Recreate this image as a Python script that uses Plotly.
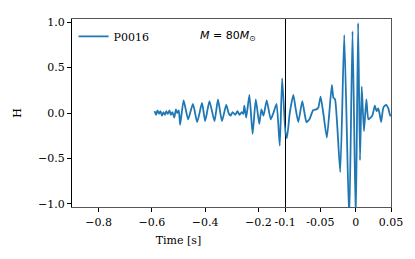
import plotly.graph_objects as go
from plotly.subplots import make_subplots

# Time [s] and strain values H
time_s = [
    -0.590, -0.584, -0.579, -0.573, -0.568, -0.562, -0.557, -0.551, -0.546, -0.540,
    -0.534, -0.529, -0.523, -0.516, -0.510, -0.505, -0.499, -0.494, -0.481, -0.464,
    -0.446, -0.430, -0.412, -0.400, -0.384, -0.365, -0.352, -0.337, -0.321, -0.312,
    -0.305, -0.297, -0.287, -0.279, -0.271, -0.263, -0.257, -0.253, -0.246, -0.234,
    -0.222, -0.210, -0.197, -0.189, -0.181, -0.169, -0.154, -0.144, -0.132, -0.120,
    -0.111, -0.0976, -0.0934, -0.0883, -0.0851, -0.0813, -0.0757, -0.0725, -0.0697,
    -0.0655, -0.0603, -0.0557, -0.0529, -0.0497, -0.0459, -0.0408, -0.0338, -0.0316,
    -0.0292, -0.0219, -0.0162, -0.0092, -0.0045, 0.0001, 0.0034, 0.0061, 0.0085,
    0.0117, 0.0151, 0.0179, 0.0211, 0.0239, 0.0271, 0.0295, 0.0318, 0.0337, 0.0360,
    0.0392, 0.0430, 0.0462, 0.0490, 0.0504,
]
strain_h = [
    0.02, -0.02, 0.03, -0.01, 0.02, -0.03, 0.01, -0.02, 0.02, -0.01,
    0.03, -0.02, 0.01, -0.05, 0.04, 0.00, 0.03, -0.13, 0.14, -0.07,
    0.10, -0.10, 0.11, -0.09, 0.13, -0.09, 0.15, -0.09, 0.09, 0.00,
    -0.03, 0.01, -0.02, 0.02, -0.02, 0.01, -0.01, 0.08, -0.05, 0.20,
    -0.23, 0.15, -0.12, 0.04, -0.03, 0.14, -0.07, 0.00, 0.10, -0.36,
    0.38, -0.28, 0.00, 0.20, 0.05,
    -0.10, 0.13, 0.00, -0.10,
    -0.07, 0.03, 0.04, 0.06, 0.18, 0.00, -0.27, 0.31, 0.17,
    0.15, -0.65, 0.86, -1.20, 0.90, -1.20, 0.99, -0.52, 0.29,
    -0.20, 0.15, -0.07, -0.05, -0.02, 0.08, 0.02, 0.05, 0.00, -0.10,
    0.06, 0.09, 0.05, -0.03, -0.02,
]

left_ticks = [-0.8, -0.6, -0.4, -0.2]
left_tick_text = ["\u22120.8", "\u22120.6", "\u22120.4", "\u22120.2"]
right_ticks = [-0.1, -0.05, 0.0, 0.05]
right_tick_text = ["-0.1", "-0.05", "0", "0.05"]
y_ticks = [-1.0, -0.5, 0.0, 0.5, 1.0]
y_tick_text = ["\u22121.0", "\u22120.5", "0.0", "0.5", "1.0"]

series_name = "P0016"
label_text = "<i>M</i> = 80<i>M</i><sub>\u2299</sub>"

BLUE = "#1f77b4"
SERIF = "DejaVu Serif"

fig = make_subplots(rows=1, cols=2, shared_yaxes=True, horizontal_spacing=0,
                    column_widths=[0.668, 0.332])

line_style = dict(color=BLUE, width=1.8, shape="spline", smoothing=0.5)
fig.add_trace(go.Scatter(x=time_s, y=strain_h, mode="lines", name=series_name,
                         line=line_style, showlegend=True), row=1, col=1)
fig.add_trace(go.Scatter(x=time_s, y=strain_h, mode="lines", name=series_name,
                         line=line_style, showlegend=False), row=1, col=2)

tickfont = dict(family=SERIF, size=11, color="black")

fig.update_xaxes(range=[-0.9, -0.1], tickvals=left_ticks, ticktext=left_tick_text,
                 showline=True, mirror=True, linecolor="#555555", linewidth=1.2,
                 ticks="outside", ticklen=4, tickcolor="black", tickwidth=1,
                 showgrid=False, zeroline=False, tickfont=tickfont, ticklabelstandoff=1,
                 title=dict(text="Time [s]", font=dict(family=SERIF, size=11, color="black"), standoff=8),
                 row=1, col=1)
fig.update_xaxes(range=[-0.1, 0.05], tickvals=right_ticks, ticktext=right_tick_text,
                 showline=True, mirror=True, linecolor="#555555", linewidth=1.2,
                 ticks="outside", ticklen=4, tickcolor="black", tickwidth=1,
                 showgrid=False, zeroline=False, tickfont=tickfont, ticklabelstandoff=1,
                 row=1, col=2)
fig.update_yaxes(range=[-1.035, 1.035], tickvals=y_ticks, ticktext=y_tick_text,
                 showline=True, mirror=True, linecolor="black", linewidth=1.2,
                 ticks="outside", ticklen=4, tickcolor="black", tickwidth=1,
                 showgrid=False, zeroline=False, tickfont=tickfont,
                 title=dict(text="H", font=dict(family=SERIF, size=11, color="black"), standoff=14),
                 row=1, col=1)
fig.update_yaxes(range=[-1.035, 1.035], showline=True, mirror=False, side="right",
                 linecolor="#555555", linewidth=1.2, ticks="", showticklabels=False,
                 showgrid=False, zeroline=False, row=1, col=2)

fig.add_annotation(text=label_text, xref="paper", yref="paper", x=0.395, y=0.91,
                   xanchor="left", yanchor="middle", showarrow=False,
                   font=dict(family="DejaVu Sans", size=11, color="black"))

# page body adds an 8px offset, so the figure is 8px smaller with 8px less left/top margin
fig.update_layout(
    width=407, height=251,
    margin=dict(l=59, r=24, t=8, b=52),
    paper_bgcolor="white", plot_bgcolor="white",
    showlegend=True,
    legend=dict(x=0.005, y=0.985, xanchor="left", yanchor="top", bgcolor="rgba(0,0,0,0)",
                font=dict(family=SERIF, size=11, color="black"), itemwidth=30),
)

fig.write_html("out.html")
